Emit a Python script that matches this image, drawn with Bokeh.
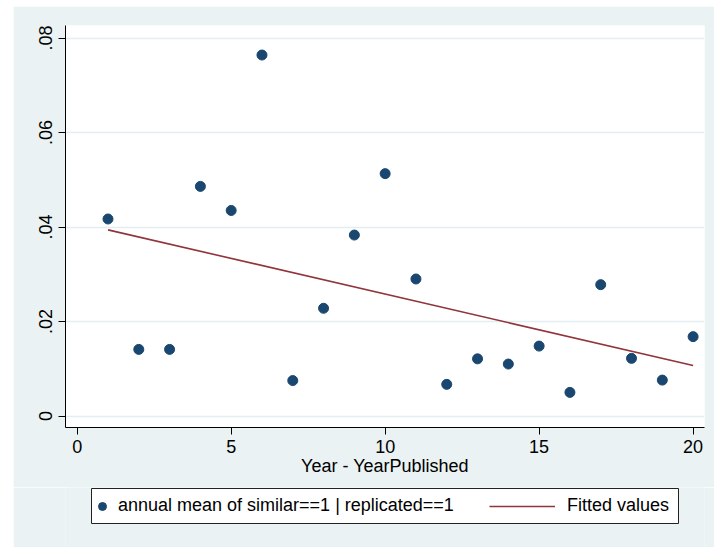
from bokeh.plotting import figure
from bokeh.models import Range1d, FixedTicker, Legend, LegendItem, Spacer, BoxAnnotation
from bokeh.layouts import row, column
from bokeh.embed import file_html
from bokeh.resources import INLINE

# ---- data ----
years = list(range(1, 21))
annual_mean = [0.0417, 0.0141, 0.0141, 0.0486, 0.0435, 0.0764, 0.0075, 0.0228,
               0.0383, 0.0513, 0.0290, 0.0067, 0.0121, 0.0110, 0.0148, 0.0050,
               0.0278, 0.0122, 0.0076, 0.0168]
fit_x = [1, 20]
fit_y = [0.0394, 0.0107]
x_ticks = [0, 5, 10, 15, 20]
y_ticks = [0, 0.02, 0.04, 0.06, 0.08]
y_tick_labels = ["0", ".02", ".04", ".06", ".08"]
x_title = "Year - YearPublished"
series_label = "annual mean of similar==1 | replicated==1"
fit_label = "Fitted values"

BG = "#EAF2F3"
NAVY = "#1A476F"
MAROON = "#90353B"
FONT = "Liberation Sans"

# ---- main plot ----
p = figure(width=701, height=481, output_backend="svg", toolbar_location=None,
           x_range=Range1d(-0.380, 20.370), y_range=Range1d(-0.00243, 0.08265),
           min_border_left=52, min_border_right=10, min_border_top=19,
           min_border_bottom=60)
p.background_fill_color = "white"
p.border_fill_color = BG
p.outline_line_color = None

p.xgrid.visible = False
p.ygrid.ticker = FixedTicker(ticks=y_ticks)
p.ygrid.grid_line_color = "#E4EDF0"
p.ygrid.grid_line_width = 1.5

p.xaxis.ticker = FixedTicker(ticks=x_ticks)
p.yaxis.ticker = FixedTicker(ticks=y_ticks)
p.yaxis.major_label_overrides = dict(zip(y_ticks, y_tick_labels))
p.yaxis.major_label_orientation = "vertical"

for ax in (p.xaxis[0], p.yaxis[0]):
    ax.axis_line_color = "black"
    ax.axis_line_width = 1
    ax.major_tick_line_color = "black"
    ax.major_tick_out = 7
    ax.major_tick_in = 0
    ax.minor_tick_line_color = None
    ax.major_label_text_font = FONT
    ax.major_label_text_font_size = "18px"
    ax.major_label_text_color = "black"

p.xaxis.major_label_standoff = 5
p.yaxis.major_label_standoff = 6
p.xaxis.axis_label = x_title
p.xaxis.axis_label_text_font = FONT
p.xaxis.axis_label_text_font_size = "18px"
p.xaxis.axis_label_text_font_style = "normal"
p.xaxis.axis_label_text_color = "black"
p.xaxis.axis_label_standoff = 0

p.scatter(years, annual_mean, size=10, fill_color=NAVY, line_color=NAVY)
p.line(fit_x, fit_y, line_color=MAROON, line_width=1.6)

# ---- legend strip: same side borders as the main plot ----
pl = figure(width=701, height=60, output_backend="svg", toolbar_location=None,
            x_range=Range1d(0, 1), y_range=Range1d(0, 1),
            x_axis_location=None, y_axis_location=None,
            min_border_left=52, min_border_right=10, min_border_top=0,
            min_border_bottom=0)
pl.grid.visible = False
pl.background_fill_color = BG
pl.border_fill_color = BG
pl.outline_line_color = None

legend_box = BoxAnnotation(left=26, right=613, top=59, bottom=24,
                           left_units="screen", right_units="screen",
                           top_units="screen", bottom_units="screen",
                           fill_color="white", fill_alpha=1.0,
                           line_color="#222222", line_width=1, line_alpha=1.0)
pl.add_layout(legend_box)

# proxy renderers (kept outside the visible range) that give the legend its swatches
leg_pts = pl.scatter(x=[-10], y=[-10], size=10, fill_color=NAVY, line_color=NAVY)
leg_fit = pl.line(x=[-10, -9], y=[-10, -10], line_color=MAROON, line_width=1.6)

common = dict(orientation="horizontal", glyph_height=20, label_height=20,
              padding=0, margin=0, spacing=0, border_line_color=None,
              background_fill_alpha=0.0, label_text_font=FONT,
              label_text_font_size="18px", label_text_color="black")
legA = Legend(items=[LegendItem(label=series_label, renderers=[leg_pts])],
              location=(27, 31), glyph_width=20, label_standoff=6, **common)
legB = Legend(items=[LegendItem(label=fit_label, renderers=[leg_fit])],
              location=(424, 31), glyph_width=66, label_standoff=12, **common)
pl.add_layout(legA)
pl.add_layout(legB)

layout = column(Spacer(width=714, height=6),
                row(Spacer(width=13, height=541), column(p, pl)))
open("out.html", "w").write(file_html(layout, INLINE))
